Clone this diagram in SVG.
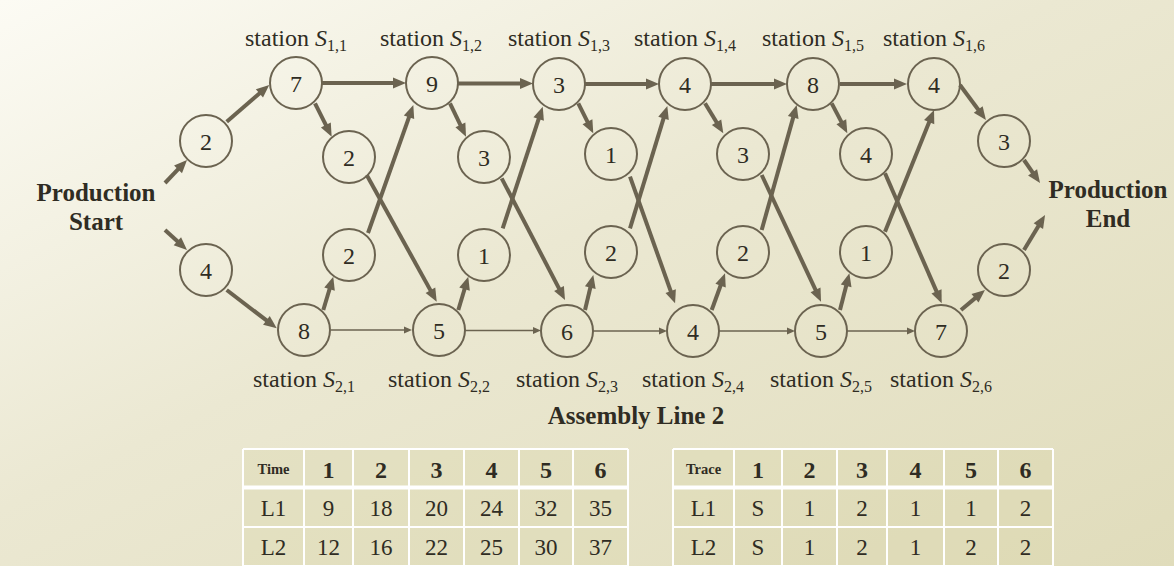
<svg xmlns="http://www.w3.org/2000/svg" width="1174" height="566" viewBox="0 0 1174 566">
<defs>
<linearGradient id="bg" x1="0" y1="0" x2="1" y2="1">
<stop offset="0" stop-color="#fcfbf4"/>
<stop offset="0.45" stop-color="#ebe8d2"/>
<stop offset="1" stop-color="#e0dcbb"/>
</linearGradient>
<marker id="ah" markerUnits="userSpaceOnUse" markerWidth="30" markerHeight="30" refX="0" refY="0" orient="auto" overflow="visible">
<path d="M-3,-5.5 L10,0 L-3,5.5 z" fill="#6b6350"/>
</marker>
<marker id="ahs" markerUnits="userSpaceOnUse" markerWidth="20" markerHeight="20" refX="0" refY="0" orient="auto" overflow="visible">
<path d="M-2,-3.4 L6,0 L-2,3.4 z" fill="#6b6350"/>
</marker>
</defs>
<style>
text{font-family:"Liberation Serif","Times New Roman",serif;fill:#2f2c23}
.st{font-size:24px}
.sub{font-size:16px}
.nd circle{fill:none;stroke:#6b6350;stroke-width:2}
.nd text{font-size:24px;text-anchor:middle}
.b{font-weight:bold;font-size:25px;text-anchor:middle}
.thick{stroke:#6b6350;stroke-width:4;fill:none;marker-end:url(#ah)}
.thin{stroke:#6b6350;stroke-width:1.7;fill:none;marker-end:url(#ahs)}
.cell{fill:#d8d3a6;fill-opacity:0.3}
.grid{stroke:#ffffff;stroke-width:2;fill:none}
.hsep{stroke:#ffffff;stroke-width:4}
.th{font-weight:bold;font-size:24px;text-anchor:middle}
.thl{font-weight:bold;font-size:14.5px;text-anchor:middle}
.td{font-size:23px;text-anchor:middle}
</style>
<rect x="0" y="0" width="1174" height="566" fill="url(#bg)"/>

<g id="labels">
<text class="b" x="96" y="201">Production</text>
<text class="b" x="96" y="230">Start</text>
<text class="b" x="1108" y="198">Production</text>
<text class="b" x="1108" y="227">End</text>
<text class="b" x="636" y="424">Assembly Line 2</text>
<g class="st" text-anchor="middle">
<text class="st" x="296" y="46">station <tspan font-style="italic">S</tspan><tspan class="sub" dy="5">1,1</tspan></text>
<text class="st" x="431" y="46">station <tspan font-style="italic">S</tspan><tspan class="sub" dy="5">1,2</tspan></text>
<text class="st" x="559" y="46">station <tspan font-style="italic">S</tspan><tspan class="sub" dy="5">1,3</tspan></text>
<text class="st" x="685" y="46">station <tspan font-style="italic">S</tspan><tspan class="sub" dy="5">1,4</tspan></text>
<text class="st" x="813" y="46">station <tspan font-style="italic">S</tspan><tspan class="sub" dy="5">1,5</tspan></text>
<text class="st" x="934" y="46">station <tspan font-style="italic">S</tspan><tspan class="sub" dy="5">1,6</tspan></text>
<text class="st" x="304" y="387">station <tspan font-style="italic">S</tspan><tspan class="sub" dy="5">2,1</tspan></text>
<text class="st" x="439" y="387">station <tspan font-style="italic">S</tspan><tspan class="sub" dy="5">2,2</tspan></text>
<text class="st" x="567" y="387">station <tspan font-style="italic">S</tspan><tspan class="sub" dy="5">2,3</tspan></text>
<text class="st" x="693" y="387">station <tspan font-style="italic">S</tspan><tspan class="sub" dy="5">2,4</tspan></text>
<text class="st" x="821" y="387">station <tspan font-style="italic">S</tspan><tspan class="sub" dy="5">2,5</tspan></text>
<text class="st" x="941" y="387">station <tspan font-style="italic">S</tspan><tspan class="sub" dy="5">2,6</tspan></text>
</g>
</g>

<g id="connectors">
<line class="thick" x1="165" y1="183" x2="180.1" y2="167.2"/>
<line class="thick" x1="165" y1="230" x2="179.6" y2="243.3"/>
<line class="thick" x1="226.7" y1="121.7" x2="261.7" y2="91.5"/>
<line class="thick" x1="226.7" y1="290" x2="268.8" y2="322.2"/>
<line class="thick" x1="322" y1="83" x2="396" y2="83"/>
<line class="thick" x1="458" y1="83.5" x2="523" y2="83.5"/>
<line class="thick" x1="585" y1="84" x2="649" y2="84"/>
<line class="thick" x1="711" y1="84" x2="777" y2="84"/>
<line class="thick" x1="840" y1="84" x2="897" y2="84"/>
<line class="thick" x1="315" y1="103.3" x2="327.2" y2="127.7"/>
<line class="thick" x1="450" y1="103.3" x2="461.7" y2="127.7"/>
<line class="thick" x1="578.3" y1="103.3" x2="588.8" y2="124.4"/>
<line class="thick" x1="705" y1="103.3" x2="718.1" y2="124.8"/>
<line class="thick" x1="831.7" y1="103.3" x2="842.7" y2="124.4"/>
<line class="thick" x1="366.7" y1="175" x2="431.9" y2="292.9"/>
<line class="thick" x1="501.7" y1="178.3" x2="560.4" y2="291.1"/>
<line class="thick" x1="630" y1="176.7" x2="671.7" y2="293.9"/>
<line class="thick" x1="761.7" y1="175" x2="816.8" y2="292.6"/>
<line class="thick" x1="885" y1="173.3" x2="937.7" y2="294.1"/>
<line class="thick" x1="323.3" y1="310" x2="330.4" y2="286.3"/>
<line class="thick" x1="458.3" y1="310" x2="465.4" y2="286.3"/>
<line class="thick" x1="585" y1="310" x2="591" y2="284.7"/>
<line class="thick" x1="711.7" y1="310" x2="721.6" y2="282.7"/>
<line class="thick" x1="840" y1="310" x2="846.9" y2="283"/>
<line class="thick" x1="368" y1="233" x2="410" y2="114.4"/>
<line class="thick" x1="502.7" y1="228.3" x2="539.6" y2="116.2"/>
<line class="thick" x1="630" y1="228.3" x2="664.4" y2="115.6"/>
<line class="thick" x1="761.7" y1="230" x2="794" y2="114.6"/>
<line class="thick" x1="885" y1="231.7" x2="930.3" y2="119.3"/>
<line class="thick" x1="960" y1="85" x2="980" y2="112"/>
<line class="thick" x1="961" y1="310" x2="977.3" y2="296.4"/>
<line class="thick" x1="1024" y1="160" x2="1034.3" y2="174.8"/>
<line class="thick" x1="1024" y1="250" x2="1039.9" y2="223.6"/>
<line class="thin" x1="331" y1="330" x2="406" y2="330"/>
<line class="thin" x1="465" y1="330.5" x2="535" y2="330.5"/>
<line class="thin" x1="593" y1="331" x2="661" y2="331"/>
<line class="thin" x1="719" y1="331" x2="789" y2="331"/>
<line class="thin" x1="847" y1="331" x2="909" y2="331"/>
</g>

<g id="e1" class="nd"><circle cx="206" cy="141" r="26"/><text x="206" y="149.5">2</text></g>
<g id="e2" class="nd"><circle cx="206" cy="270" r="26"/><text x="206" y="278.5">4</text></g>
<g id="a1" class="nd"><circle cx="296" cy="83" r="26"/><text x="296" y="91.5">7</text></g>
<g id="a2" class="nd"><circle cx="432" cy="83" r="26"/><text x="432" y="91.5">9</text></g>
<g id="a3" class="nd"><circle cx="559" cy="84" r="26"/><text x="559" y="92.5">3</text></g>
<g id="a4" class="nd"><circle cx="685" cy="84" r="26"/><text x="685" y="92.5">4</text></g>
<g id="a5" class="nd"><circle cx="813" cy="84" r="26"/><text x="813" y="92.5">8</text></g>
<g id="a6" class="nd"><circle cx="934" cy="84" r="26"/><text x="934" y="92.5">4</text></g>
<g id="t1" class="nd"><circle cx="349" cy="157" r="26"/><text x="349" y="165.5">2</text></g>
<g id="t2" class="nd"><circle cx="484" cy="157" r="26"/><text x="484" y="165.5">3</text></g>
<g id="t3" class="nd"><circle cx="611" cy="154" r="26"/><text x="611" y="162.5">1</text></g>
<g id="t4" class="nd"><circle cx="743" cy="154" r="26"/><text x="743" y="162.5">3</text></g>
<g id="t5" class="nd"><circle cx="866" cy="154" r="26"/><text x="866" y="162.5">4</text></g>
<g id="u1" class="nd"><circle cx="349" cy="255" r="26"/><text x="349" y="263.5">2</text></g>
<g id="u2" class="nd"><circle cx="484" cy="255" r="26"/><text x="484" y="263.5">1</text></g>
<g id="u3" class="nd"><circle cx="611" cy="252" r="26"/><text x="611" y="260.5">2</text></g>
<g id="u4" class="nd"><circle cx="743" cy="252" r="26"/><text x="743" y="260.5">2</text></g>
<g id="u5" class="nd"><circle cx="866" cy="252" r="26"/><text x="866" y="260.5">1</text></g>
<g id="b1" class="nd"><circle cx="304" cy="330" r="26"/><text x="304" y="338.5">8</text></g>
<g id="b2" class="nd"><circle cx="439" cy="330" r="26"/><text x="439" y="338.5">5</text></g>
<g id="b3" class="nd"><circle cx="567" cy="331" r="26"/><text x="567" y="339.5">6</text></g>
<g id="b4" class="nd"><circle cx="693" cy="331" r="26"/><text x="693" y="339.5">4</text></g>
<g id="b5" class="nd"><circle cx="821" cy="331" r="26"/><text x="821" y="339.5">5</text></g>
<g id="b6" class="nd"><circle cx="941" cy="331" r="26"/><text x="941" y="339.5">7</text></g>
<g id="x1" class="nd"><circle cx="1004" cy="141" r="26"/><text x="1004" y="149.5">3</text></g>
<g id="x2" class="nd"><circle cx="1004" cy="270" r="26"/><text x="1004" y="278.5">2</text></g>

<g id="time-table">
<rect class="cell" x="243" y="449" width="385" height="117"/>
<path class="grid" d="M243,449 H628 M243,527 H628 M243,566 H628 M243,449 V566 M304,449 V566 M353,449 V566 M409,449 V566 M464,449 V566 M519,449 V566 M573,449 V566 M628,449 V566"/>
<line class="hsep" x1="243" y1="487.5" x2="628" y2="487.5"/>
<text class="thl" x="273.5" y="474">Time</text>
<text class="th" x="328.5" y="478">1</text>
<text class="th" x="381" y="478">2</text>
<text class="th" x="436.5" y="478">3</text>
<text class="th" x="491.5" y="478">4</text>
<text class="th" x="546" y="478">5</text>
<text class="th" x="600.5" y="478">6</text>
<text class="td" x="273.5" y="516">L1</text>
<text class="td" x="328.5" y="516">9</text>
<text class="td" x="381" y="516">18</text>
<text class="td" x="436.5" y="516">20</text>
<text class="td" x="491.5" y="516">24</text>
<text class="td" x="546" y="516">32</text>
<text class="td" x="600.5" y="516">35</text>
<text class="td" x="273.5" y="555">L2</text>
<text class="td" x="328.5" y="555">12</text>
<text class="td" x="381" y="555">16</text>
<text class="td" x="436.5" y="555">22</text>
<text class="td" x="491.5" y="555">25</text>
<text class="td" x="546" y="555">30</text>
<text class="td" x="600.5" y="555">37</text>
</g>

<g id="trace-table">
<rect class="cell" x="673" y="449" width="380" height="117"/>
<path class="grid" d="M673,449 H1053 M673,527 H1053 M673,566 H1053 M673,449 V566 M734,449 V566 M782,449 V566 M837,449 V566 M887,449 V566 M944,449 V566 M998,449 V566 M1053,449 V566"/>
<line class="hsep" x1="673" y1="487.5" x2="1053" y2="487.5"/>
<text class="thl" x="703.5" y="474">Trace</text>
<text class="th" x="758" y="478">1</text>
<text class="th" x="809.5" y="478">2</text>
<text class="th" x="862" y="478">3</text>
<text class="th" x="915.5" y="478">4</text>
<text class="th" x="971" y="478">5</text>
<text class="th" x="1025.5" y="478">6</text>
<text class="td" x="703.5" y="516">L1</text>
<text class="td" x="758" y="516">S</text>
<text class="td" x="809.5" y="516">1</text>
<text class="td" x="862" y="516">2</text>
<text class="td" x="915.5" y="516">1</text>
<text class="td" x="971" y="516">1</text>
<text class="td" x="1025.5" y="516">2</text>
<text class="td" x="703.5" y="555">L2</text>
<text class="td" x="758" y="555">S</text>
<text class="td" x="809.5" y="555">1</text>
<text class="td" x="862" y="555">2</text>
<text class="td" x="915.5" y="555">1</text>
<text class="td" x="971" y="555">2</text>
<text class="td" x="1025.5" y="555">2</text>
</g>
</svg>
